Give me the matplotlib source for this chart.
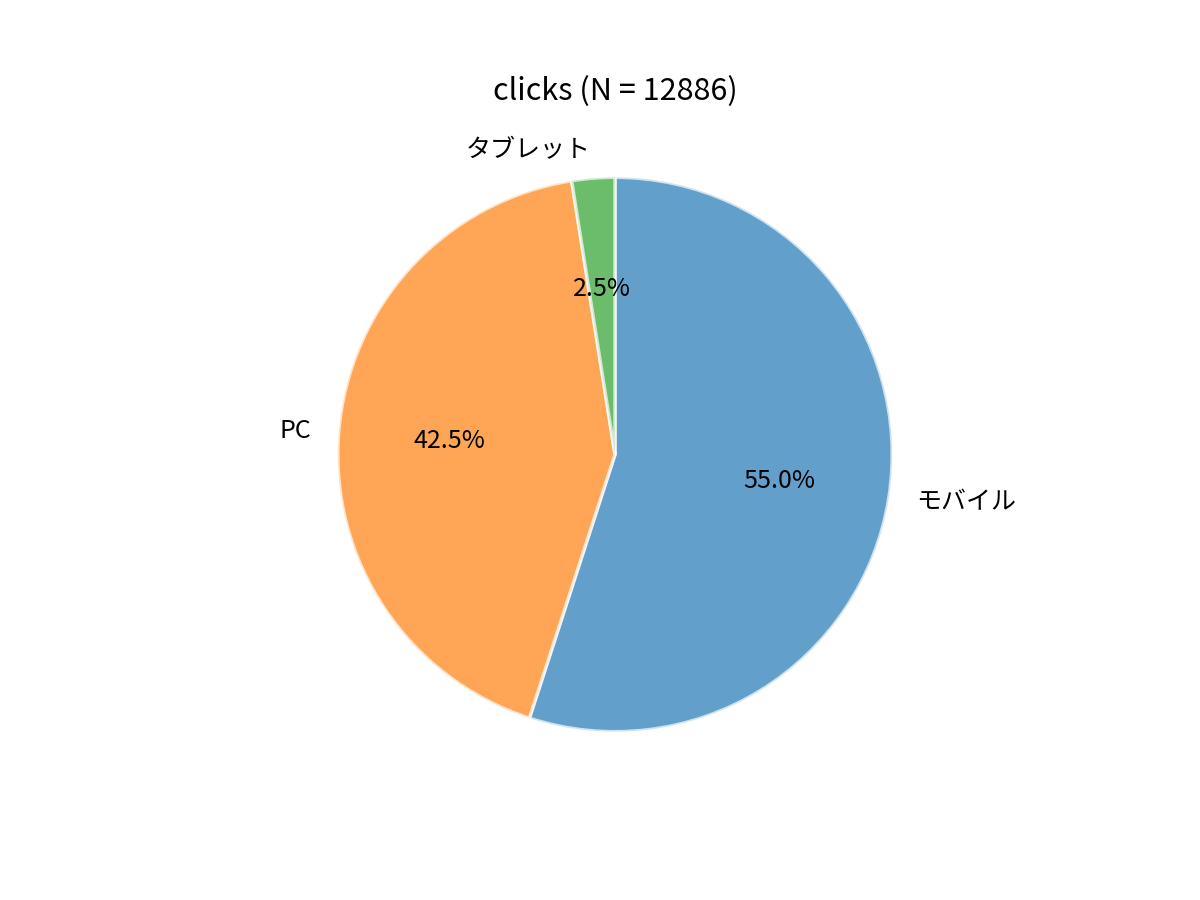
import matplotlib
matplotlib.use("Agg")
import matplotlib.pyplot as plt

plt.rcParams['font.family'] = ['Noto Sans CJK JP', 'DejaVu Sans']

# デバイス別クリック数
devices = ["モバイル", "PC", "タブレット"]
clicks = [7087, 5477, 322]
colors = ["tab:blue", "tab:orange", "tab:green"]

fig, ax = plt.subplots(figsize=(12, 9), dpi=100)
ax.pie(clicks, labels=devices, colors=colors, autopct="%1.1f%%",
       startangle=90, counterclock=False,
       wedgeprops={"linewidth": 2.5, "edgecolor": "white", "alpha": 0.7},
       textprops={"fontsize": 18})
ax.set_title(f"clicks (N = {sum(clicks)})", fontsize=22)

fig.savefig("out.png")
